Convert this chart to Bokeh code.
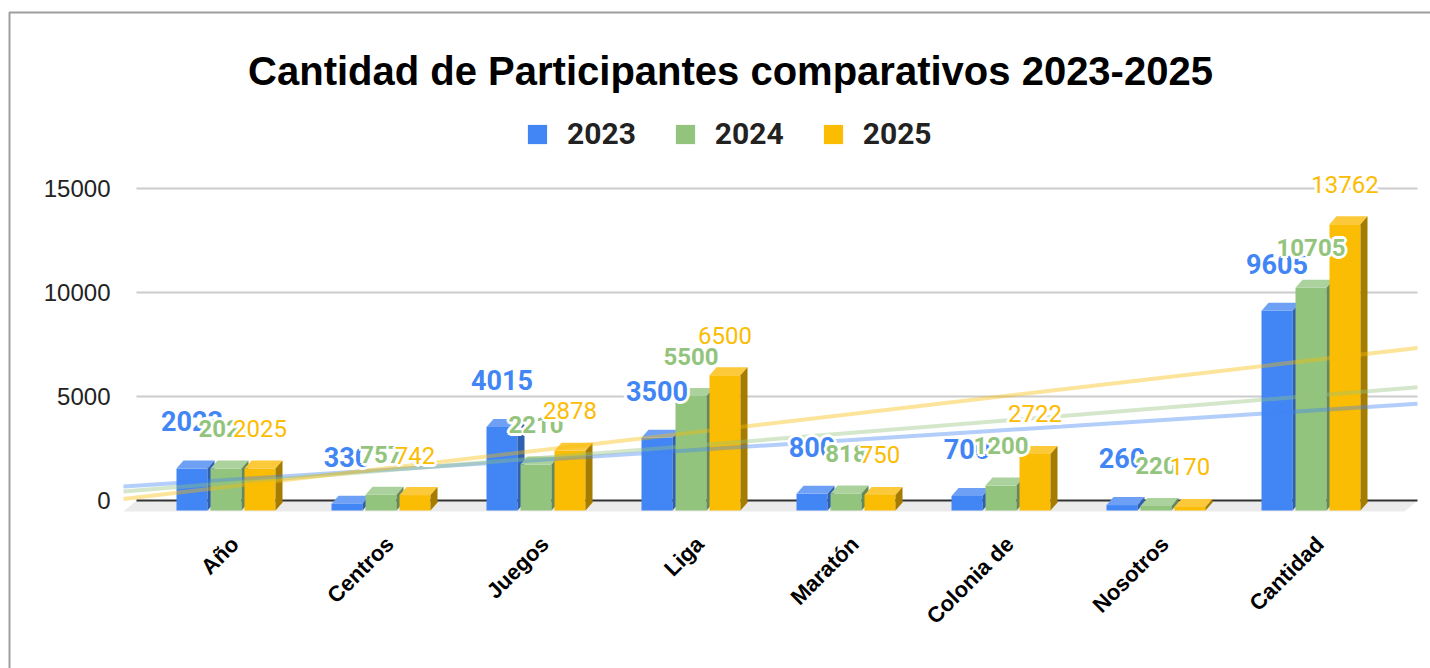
import numpy as np
from bokeh.plotting import figure
from bokeh.models import ColumnDataSource, Legend, LegendItem, Range1d
from bokeh.core.properties import value
from bokeh.embed import file_html
from bokeh.resources import INLINE

# ---------------- data ----------------
categories = ["Año", "Centros", "Juegos", "Liga", "Maratón", "Colonia de", "Nosotros", "Cantidad"]
series_names = ["2023", "2024", "2025"]
v2023 = [2023, 330, 4015, 3500, 800, 700, 260, 9605]
v2024 = [2024, 757, 2210, 5500, 818, 1200, 220, 10705]
v2025 = [2025, 742, 2878, 6500, 750, 2722, 170, 13762]
y_ticks = [0, 5000, 10000, 15000]
y_tick_labels = ["0", "5000", "10000", "15000"]
title_text = "Cantidad de Participantes comparativos 2023-2025"

series_values = [v2023, v2024, v2025]

# ---------------- style ----------------
front_c = ["#4285F4", "#93C47D", "#FBBC04"]
top_c = ["#6ea1f6", "#abd19c", "#fcc93a"]
side_c = ["#2e5fb0", "#66895a", "#a67c00"]
label_font_size = ["27px", "24px", "24px"]
label_font_style = ["bold", "bold", "normal"]
label_gap_px = [47, 40, 40]

W, H = 1430, 668
PX_X = 155.0                 # pixels per category
PX_Y = 104.0 / 5000.0        # pixels per unit
X0_PX = 225.5                # canvas x of first category
Y0_PX = 500.0                # canvas y of value 0
x_start = -X0_PX / PX_X
x_end = x_start + W / PX_X
y_end = Y0_PX / PX_Y
y_start = y_end - H / PX_Y


def cx(px):  # canvas px -> data x
    return x_start + px / PX_X


def cy(py):  # canvas py -> data y
    return (Y0_PX - py) / PX_Y


bar_w = 31 / PX_X
bar_step = 34 / PX_X
depth_dx = 7 / PX_X
depth_dy = 8 / PX_Y
base_shift = 10 / PX_Y
plot_left, plot_right = 123, 1417
floor_d = 13

p = figure(width=W, height=H, output_backend="svg", toolbar_location=None,
           x_range=Range1d(x_start, x_end), y_range=Range1d(y_start, y_end),
           x_axis_location=None, y_axis_location=None,
           min_border_left=0, min_border_right=0, min_border_top=0, min_border_bottom=0)
p.outline_line_color = None
p.xgrid.visible = False
p.ygrid.visible = False
p.background_fill_color = "white"
p.border_fill_color = "white"

# outer border (left and top)
p.line([cx(1440), cx(9), cx(9)], [cy(12), cy(12), cy(700)], line_color="#9e9e9e", line_width=2)

# floor
p.patch([cx(plot_left + floor_d), cx(plot_right), cx(plot_right - floor_d), cx(plot_left)],
        [0, 0, -11 / PX_Y, -11 / PX_Y], fill_color="#ebebeb", line_color=None)

# gridlines
n = len(y_ticks)
gx0 = [cx(plot_left + floor_d)] * n
gx1 = [cx(plot_right)] * n
p.segment(x0=gx0[1:], y0=y_ticks[1:], x1=gx1[1:], y1=y_ticks[1:], line_color="#cccccc", line_width=2)
p.segment(x0=gx0[:1], y0=y_ticks[:1], x1=gx1[:1], y1=y_ticks[:1], line_color="#333333", line_width=2)

# y tick labels
p.text(x=[cx(110)] * n, y=y_ticks, text=y_tick_labels, text_align="right", text_baseline="middle",
       text_font=value("Liberation Sans"), text_font_size="24px", text_color="#222222")

# bars (pseudo 3D)
idx = np.arange(len(categories))
legend_items = []
for s, vals in enumerate(series_values):
    vals = np.array(vals, dtype=float)
    xc = idx + (s - 1) * bar_step
    bottom = np.full_like(vals, -base_shift)
    top = vals - base_shift
    fr = p.vbar(x=xc, width=bar_w, bottom=bottom, top=top, fill_color=front_c[s], line_color=None)
    x0 = xc - bar_w / 2
    x1 = xc + bar_w / 2
    top_xs = [[a, b, b + depth_dx, a + depth_dx] for a, b in zip(x0, x1)]
    top_ys = [[t, t, t + depth_dy, t + depth_dy] for t in top]
    p.patches(top_xs, top_ys, fill_color=top_c[s], line_color=None)
    side_xs = [[b, b, b + depth_dx, b + depth_dx] for b in x1]
    side_ys = [[bt, t, t + depth_dy, bt + depth_dy] for bt, t in zip(bottom, top)]
    p.patches(side_xs, side_ys, fill_color=side_c[s], line_color=None)
    legend_items.append(LegendItem(label=series_names[s], renderers=[fr]))

# trendlines (linear fit of each series)
for s, vals in enumerate(series_values):
    k, b = np.polyfit(idx, np.array(vals, dtype=float), 1)
    xs = np.array([cx(plot_left), cx(plot_right)])
    p.line(xs, k * xs + b, line_color=front_c[s], line_alpha=0.4, line_width=4)

# data labels with white halo
halo = [(-2, -2), (0, -2), (2, -2), (-2, 0), (2, 0), (-2, 2), (0, 2), (2, 2),
        (0, -3), (0, 3), (-3, 0), (3, 0)]
for s, vals in enumerate(series_values):
    vals = np.array(vals, dtype=float)
    src = ColumnDataSource(dict(x=idx + (s - 1) * bar_step, y=vals - base_shift,
                                t=[str(int(v)) for v in vals]))
    common = dict(x="x", y="y", text="t", text_align="center", text_baseline="alphabetic",
                  text_font=value("Roboto"), text_font_size=label_font_size[s],
                  text_font_style=label_font_style[s], source=src)
    for ox, oy in halo:
        p.text(x_offset=ox, y_offset=-label_gap_px[s] + oy, text_color="white", **common)
    p.text(x_offset=0, y_offset=-label_gap_px[s], text_color=front_c[s], **common)

# category labels (rotated 45 degrees, ending at the category centre)
p.text(x=idx, y=[cy(531)] * len(categories), text=categories, angle=np.pi / 4,
       text_align="right", text_baseline="top", text_font=value("Liberation Sans"),
       text_font_style="bold", text_font_size="22px", text_color="#000000")

# title
p.text(x=[cx(730)], y=[cy(70)], text=[title_text], text_align="center", text_baseline="middle",
       text_font=value("Liberation Sans"), text_font_style="bold", text_font_size="40px",
       text_color="#000000")

# legend
legend = Legend(items=legend_items, orientation="horizontal", location=(525, 517),
                glyph_width=24, glyph_height=24, label_standoff=18, spacing=37,
                padding=0, margin=0, border_line_color=None, background_fill_alpha=0,
                label_text_font="Roboto", label_text_font_style="bold",
                label_text_font_size="30px", label_text_color="#222222")
p.add_layout(legend)

open("out.html", "w").write(file_html(p, INLINE))
